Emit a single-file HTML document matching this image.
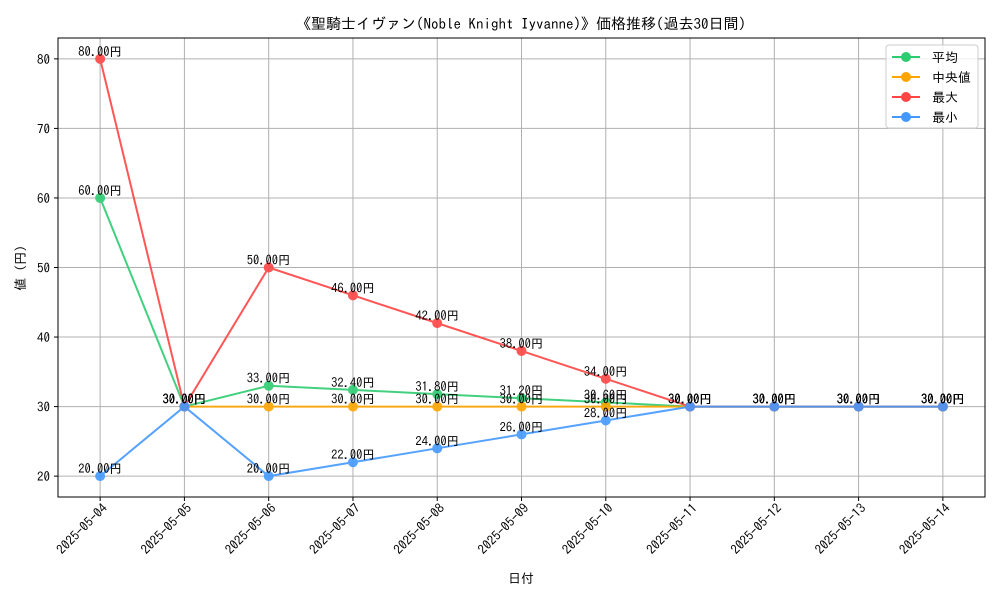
<!DOCTYPE html>
<html><head><meta charset="utf-8"><style>
body{margin:0;background:#fff}
svg text{font-family:"IPAGothic","Liberation Sans","Noto Sans CJK JP",sans-serif;fill:#000}
</style></head><body>
<svg id="c" width="1000" height="600"></svg>
<script>
const categories=["2025-05-04","2025-05-05","2025-05-06","2025-05-07","2025-05-08","2025-05-09","2025-05-10","2025-05-11","2025-05-12","2025-05-13","2025-05-14"];
const avgValues=[60,30,33,32.4,31.8,31.2,30.6,30,30,30,30];
const medianValues=[null,30,30,30,30,30,30,30,30,30,30];
const maxValues=[80,30,50,46,42,38,34,30,30,30,30];
const minValues=[20,30,20,22,24,26,28,30,30,30,30];
const yTicks=[20,30,40,50,60,70,80];
const seriesNames=["平均","中央値","最大","最小"];
const NS="http://www.w3.org/2000/svg";
const svg=document.getElementById('c');
const L=58,R=985,T=38,B=497;
const yMin=17,yMax=83;
const xs=i=>L+(R-L)*(i+0.5)/(categories.length);
const ys=v=>B-(v-yMin)/(yMax-yMin)*(B-T);
function mk(tag,attrs,parent){const e=document.createElementNS(NS,tag);for(const k in attrs)e.setAttribute(k,attrs[k]);(parent||svg).appendChild(e);return e;}
const grid=mk('g',{});


categories.forEach((c,i)=>{
  mk('line',{x1:xs(i),x2:xs(i),y1:T,y2:B,stroke:'#b0b0b0','stroke-width':1},grid);
  mk('line',{x1:xs(i),x2:xs(i),y1:B,y2:B+4,stroke:'#000'},grid);
  const ax=xs(i)+8,ay=B+12;
  const t=mk('text',{x:ax,y:ay,'font-size':13,'text-anchor':'end',transform:`rotate(-45 ${ax} ${ay})`});
  t.textContent=c;
  
  
});
yTicks.forEach(v=>{
  mk('line',{x1:L,x2:R,y1:ys(v),y2:ys(v),stroke:'#b0b0b0','stroke-width':1},grid);
  mk('line',{x1:L-4,x2:L,y1:ys(v),y2:ys(v),stroke:'#000'},grid);
  const t=mk('text',{x:L-8,y:ys(v)+5,'font-size':13,'text-anchor':'end'});
  t.textContent=v;
  
  
});
mk('rect',{x:L,y:T,width:R-L,height:B-T,fill:'none',stroke:'#000','stroke-width':1});
const series=[[avgValues,'#2ecc71'],[medianValues,'#ffa500'],[maxValues,'#ff4444'],[minValues,'#4499ff']];
series.forEach(([vals,col],si)=>{
  const g=mk('g',{opacity:0.9});
  
  
  let d='';vals.forEach((v,i)=>{if(v==null)return;d+=(d?'L':'M')+xs(i)+' '+ys(v);});
  mk('path',{d:d,fill:'none',stroke:col,'stroke-width':2},g);
  vals.forEach((v,i)=>{if(v==null)return;
    const p=mk('circle',{cx:xs(i),cy:ys(v),r:5,fill:col},g);
    
    
  });
});
series.forEach(([vals])=>{vals.forEach((v,i)=>{if(v==null)return;
  const t=mk('text',{x:xs(i),y:ys(v)-3,'font-size':12.5,'text-anchor':'middle'});
  t.textContent=v.toFixed(2)+'円';
  
  
});});
const title=mk('text',{x:521,y:29,'font-size':15,'text-anchor':'middle'});
title.textContent='《聖騎士イヴァン(Noble Knight Iyvanne)》価格推移(過去30日間)';


const xt=mk('text',{x:521,y:583,'font-size':13,'text-anchor':'middle'});
xt.textContent='日付';


const yt=mk('text',{x:25,y:268,'font-size':13,'text-anchor':'middle',transform:'rotate(-90 25 268)'});
yt.textContent='値 (円)';


const lg=mk('g',{});


mk('rect',{x:886,y:45,width:92,height:83,rx:3,fill:'#fff',stroke:'#ccc','fill-opacity':0.8},lg);
series.forEach(([v,col],i)=>{
  const y=57+i*20;
  mk('line',{x1:892,x2:920,y1:y,y2:y,stroke:col,'stroke-width':2},lg);
  mk('circle',{cx:906,cy:y,r:5,fill:col},lg);
  const t=mk('text',{x:932,y:y+5,'font-size':13},lg);
  t.textContent=seriesNames[i];
  
  
});
</script>
</body></html>
